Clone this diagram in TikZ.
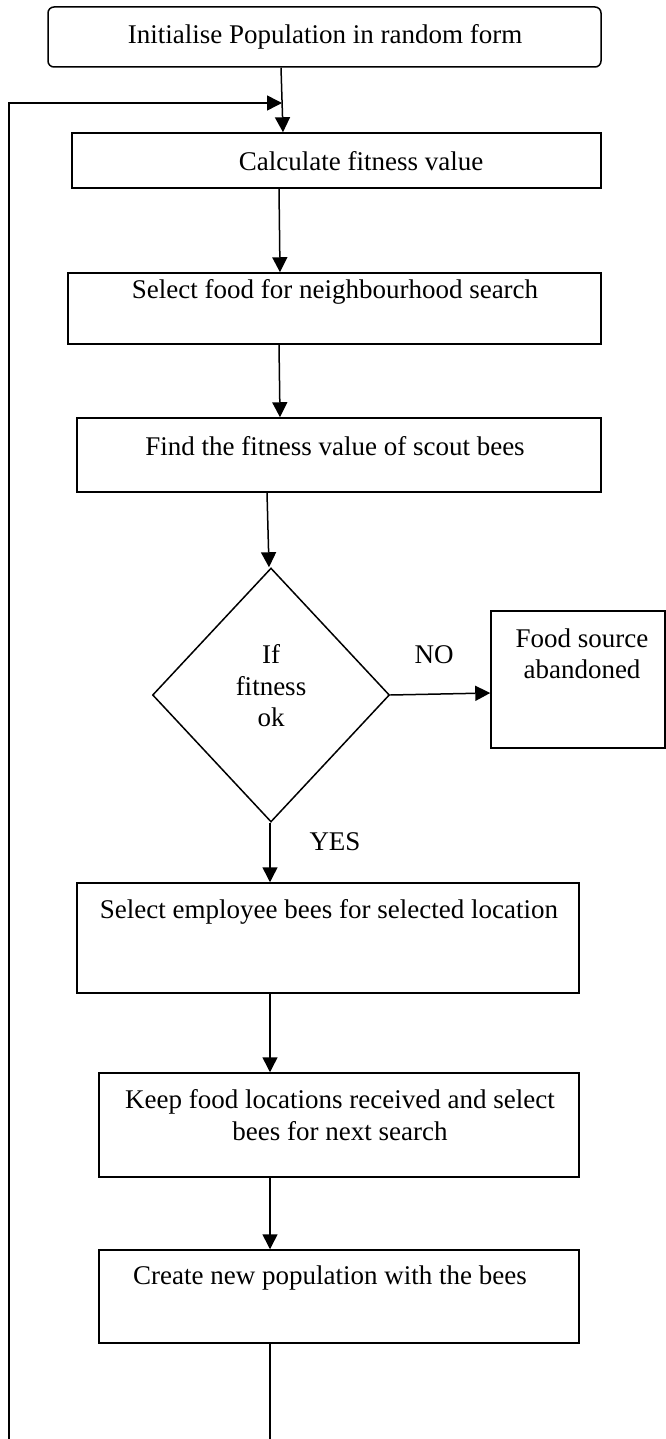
\documentclass[tikz,border=0pt]{standalone}
\usepackage{fontspec}
\setmainfont{Liberation Serif}
\usetikzlibrary{arrows.meta,shapes.geometric,calc}
\begin{document}
\begin{tikzpicture}[x=1pt,y=-1pt,
  box/.style={draw,line width=1.5pt,inner sep=0pt,minimum width=#1},
  txt/.style={inner sep=0pt,align=center,font=\fontsize{27}{31.5}\selectfont},
  arr/.style={line width=1.5pt,-{Triangle[length=15pt,width=15pt]}},
  ln/.style={line width=1.5pt}]
\useasboundingbox (0,0) rectangle (666,1439);
% boxes
\node[box=553pt,minimum height=60pt,rounded corners=6pt] (b1) at (324.5,37) {};
\node[box=529pt,minimum height=55pt] (b2) at (336.5,160.5) {};
\node[box=533pt,minimum height=71pt] (b3) at (334.5,308.5) {};
\node[box=524pt,minimum height=74pt] (b4) at (339,455) {};
\node[draw,line width=1.5pt,diamond,inner sep=0pt,minimum width=237pt,minimum height=254pt] (d) at (271,695) {};
\node[box=174pt,minimum height=137pt] (f) at (578,679.5) {};
\node[box=502pt,minimum height=110pt] (b5) at (328,938) {};
\node[box=480pt,minimum height=104pt] (b6) at (339,1125) {};
\node[box=480pt,minimum height=93pt] (b7) at (339,1296.5) {};
% texts
\node[txt] (t1) at (325,37) {Initialise Population in random form};
\node[txt] (t2) at (361,161) {Calculate fitness value};
\node[txt] (t3) at (335,292) {Select food for neighbourhood search};
\node[txt] (t4) at (335,446) {Find the fitness value of scout bees};
\node[txt] (td) at (271,686) {If\\fitness\\ok};
\node[txt] (no) at (434,655) {NO};
\node[txt] (yes) at (335,842) {YES};
\node[txt] (tf) at (582,654) {Food source\\abandoned};
\node[txt] (t5) at (329,912) {Select employee bees for selected location};
\node[txt] (t6) at (340,1115) {Keep food locations received and select\\bees for next search};
\node[txt] (t7) at (330,1278) {Create new population with the bees};
% connectors
\coordinate (m1) at (282,103);
\coordinate (lb) at (9,1439);
\coordinate (ob) at (270,1439);
\draw[arr] ([xshift=-43.5pt]b1.south) -- ([xshift=-53.5pt]b2.north);
\draw[arr] (lb) |- (m1);
\draw[arr] ([xshift=-57.5pt]b2.south) -- ([xshift=-54.5pt]b3.north);
\draw[arr] ([xshift=-55.5pt]b3.south) -- ([xshift=-59pt]b4.north);
\draw[arr] ([xshift=-72pt]b4.south) -- ([xshift=-2pt]d.north);
\draw[arr] (d.east) -- ([yshift=-13.5pt]f.west);
\draw[arr] ([xshift=-1pt]d.south) -- ([xshift=-58pt]b5.north);
\draw[arr] ([xshift=-58pt]b5.south) -- ([xshift=-69pt]b6.north);
\draw[arr] ([xshift=-69pt]b6.south) -- ([xshift=-69pt]b7.north);
\draw[ln] (b7.south -| ob) -- (ob);
\end{tikzpicture}
\end{document}
